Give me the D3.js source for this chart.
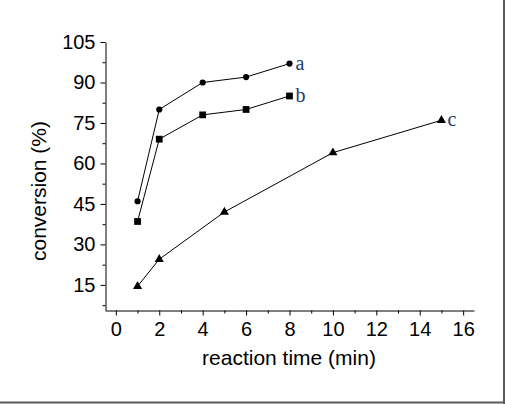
<!DOCTYPE html>
<html>
<head>
<meta charset="utf-8">
<script src="https://cdn.jsdelivr.net/npm/d3@7"></script>
<style>
  html, body { margin: 0; padding: 0; background: #fff; }
  svg { display: block; }
</style>
</head>
<body>
<div id="chart"></div>
<script>
// ---- data ----
const xTicks = [0, 2, 4, 6, 8, 10, 12, 14, 16];
const xMinorTicks = [1, 3, 5, 7, 9, 11, 13, 15];
const yTicks = [15, 30, 45, 60, 75, 90, 105];
const yMinorTicks = [7.5, 22.5, 37.5, 52.5, 67.5, 82.5, 97.5];

const seriesA_x = [1, 2, 4, 6, 8];
const seriesA_y = [46, 80, 90, 92, 97];
const seriesB_x = [1, 2, 4, 6, 8];
const seriesB_y = [38.5, 69, 78, 80, 85];
const seriesC_x = [1, 2, 5, 10, 15];
const seriesC_y = [14.5, 24.5, 42, 64, 76];

const seriesNames = ["a", "b", "c"];
const xTitle = "reaction time (min)";
const yTitle = "conversion (%)";

// ---- chart ----
const W = 505, H = 404;
const svg = d3.select("#chart").append("svg").attr("width", W).attr("height", H);

const x = d3.scaleLinear().domain([-0.5, 16.5]).range([105, 474]);
const y = d3.scaleLinear().domain([5.7, 105]).range([310, 42]);

const tickFont = "Liberation Sans, Arial, sans-serif";

// window border (right / bottom)
svg.append("line").attr("x1", W - 1).attr("x2", W - 1).attr("y1", 0).attr("y2", H)
  .attr("stroke", "#5a5a5a").attr("stroke-width", 2);
svg.append("line").attr("x1", 0).attr("x2", W).attr("y1", H - 1.5).attr("y2", H - 1.5)
  .attr("stroke", "#5a5a5a").attr("stroke-width", 2);

// y axis
const gy = svg.append("g").attr("transform", "translate(105.5,0)")
  .call(d3.axisLeft(y).tickValues(yTicks).tickSize(5).tickSizeOuter(0).tickPadding(5));
gy.append("g").call(d3.axisLeft(y).tickValues(yMinorTicks).tickSize(3).tickFormat(""))
  .select(".domain").remove();

// x axis
const gx = svg.append("g").attr("transform", "translate(0,310.5)")
  .call(d3.axisBottom(x).tickValues(xTicks).tickSize(5).tickSizeOuter(0).tickPadding(6));
gx.append("g").call(d3.axisBottom(x).tickValues(xMinorTicks).tickSize(3).tickFormat(""))
  .select(".domain").remove();

svg.selectAll(".tick text").attr("font-family", tickFont).attr("font-size", 20).attr("fill", "#000");
svg.selectAll(".domain, .tick line").attr("stroke", "#000");

// axis titles
svg.append("text").attr("x", 289).attr("y", 365).attr("text-anchor", "middle")
  .attr("font-family", tickFont).attr("font-size", 21).attr("fill", "#000")
  .text(xTitle);
svg.append("text").attr("transform", "translate(46,191) rotate(-90)").attr("text-anchor", "middle")
  .attr("font-family", tickFont).attr("font-size", 21).attr("fill", "#000")
  .text(yTitle);

// series
const series = [
  { xs: seriesA_x, ys: seriesA_y, sym: d3.symbolCircle, size: 30 },
  { xs: seriesB_x, ys: seriesB_y, sym: d3.symbolSquare, size: 46 },
  { xs: seriesC_x, ys: seriesC_y, sym: d3.symbolTriangle, size: 36 }
];
const line = d3.line().x(d => x(d[0])).y(d => y(d[1]));

series.forEach((s, i) => {
  const pts = s.xs.map((v, j) => [v, s.ys[j]]);
  svg.append("path").attr("d", line(pts)).attr("fill", "none")
    .attr("stroke", "#000").attr("stroke-width", 1);
  svg.append("g").selectAll("path").data(pts).join("path")
    .attr("transform", d => `translate(${x(d[0])},${y(d[1])})`)
    .attr("d", d3.symbol().type(s.sym).size(s.size)).attr("fill", "#000");
  const last = pts[pts.length - 1];
  svg.append("text").attr("x", x(last[0]) + 6).attr("y", y(last[1]) + 6)
    .attr("font-family", "Liberation Serif, Times New Roman, serif").attr("font-size", 20)
    .attr("fill", "#233a73").text(seriesNames[i]);
});
</script>
</body>
</html>
